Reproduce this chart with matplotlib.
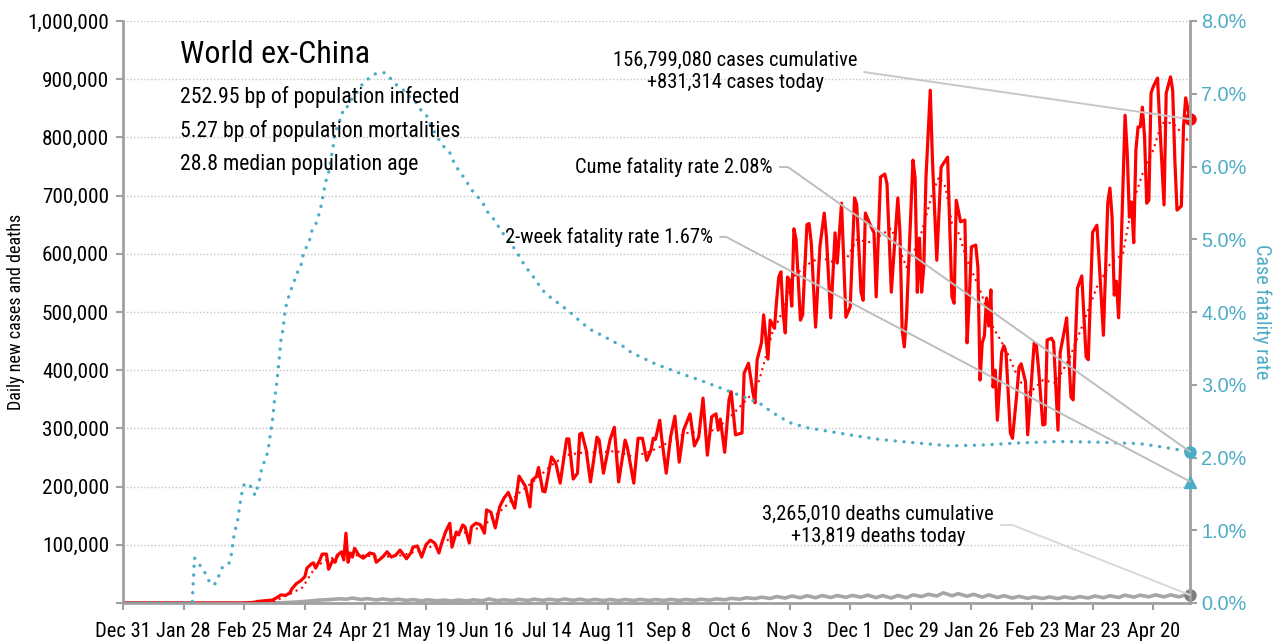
import numpy as np
import pandas as pd
import matplotlib
matplotlib.use("Agg")
import matplotlib.pyplot as plt
import matplotlib.ticker as mticker
import matplotlib.dates as mdates
from matplotlib import font_manager

# pick a narrow sans if one is installed
entries = font_manager.fontManager.ttflist
names = {f.name for f in entries}
NARROW, STRETCH = "DejaVu Sans", "normal"
for c in ["Liberation Sans Narrow", "Roboto Condensed", "Open Sans Condensed", "Noto Sans Condensed", "Arial Narrow"]:
    if c in names:
        NARROW = c
        break
else:
    for fam in ["Noto Sans", "Open Sans", "Roboto", "DejaVu Sans", "Inter"]:
        hits = [f for f in entries if f.name == fam and str(f.stretch) in ("condensed", "semi-condensed")
                and f.style == "normal"]
        if hits:
            NARROW, STRETCH = fam, str(hits[0].stretch)
            break
plt.rcParams["font.family"] = [NARROW, "DejaVu Sans"]
plt.rcParams["font.stretch"] = STRETCH

start = pd.Timestamp("2019-12-31")
last_day = 493

# daily new cases (thousands), as (day since Dec 31 2019, value)
cases_pts = [
    (0, 0), (55, 0), (60, 1), (63, 3), (69, 5), (71, 9), (73, 14), (75, 13), (77, 17), (78, 24),
    (80, 33), (82, 38), (84, 45), (85, 60), (87, 67), (88, 69), (89, 60), (91, 74), (92, 84), (94, 84),
    (95, 58), (97, 74), (98, 70), (99, 82), (101, 88), (102, 74), (103, 120), (104, 70), (105, 86), (106, 79),
    (107, 94), (109, 82), (111, 77), (114, 86), (116, 84), (117, 70), (120, 79), (122, 88), (124, 79), (126, 82),
    (128, 91), (131, 76), (133, 86), (134, 96), (136, 98), (138, 79), (140, 100), (142, 108), (144, 103), (146, 86),
    (147, 100), (149, 122), (151, 137), (152, 96), (154, 122), (155, 117), (157, 134), (158, 131), (160, 103), (161, 131),
    (163, 137), (165, 135), (167, 120), (168, 160), (170, 156), (172, 129), (174, 165), (176, 180), (178, 190), (181, 163),
    (183, 218), (186, 200), (188, 165), (189, 211), (191, 217), (192, 233), (194, 192), (195, 191), (198, 251), (200, 240),
    (202, 206), (205, 282), (206, 282), (208, 213), (210, 223), (211, 290), (212, 292), (214, 263), (216, 208), (219, 285),
    (220, 280), (222, 223), (225, 280), (227, 302), (229, 208), (232, 280), (233, 268), (236, 206), (238, 283), (240, 283),
    (242, 245), (244, 263), (245, 283), (246, 281), (248, 314), (249, 280), (251, 223), (253, 285), (255, 321), (257, 242),
    (259, 297), (262, 325), (264, 270), (266, 285), (268, 352), (270, 254), (272, 320), (274, 325), (275, 297), (276, 316),
    (278, 259), (280, 349), (281, 363), (283, 289), (286, 292), (287, 395), (289, 412), (291, 363), (292, 344), (293, 418),
    (295, 447), (296, 495), (298, 419), (299, 486), (301, 472), (302, 520), (303, 560), (304, 569), (305, 498), (306, 464),
    (307, 560), (308, 555), (309, 510), (310, 643), (311, 624), (313, 486), (314, 495), (316, 650), (317, 652), (318, 619),
    (320, 474), (322, 612), (324, 670), (325, 630), (327, 490), (329, 636), (330, 584), (332, 687), (333, 590), (334, 491),
    (336, 509), (338, 696), (339, 685), (341, 534), (342, 520), (343, 670), (345, 652), (347, 636), (348, 526), (350, 732),
    (352, 737), (353, 720), (355, 534), (356, 589), (358, 696), (359, 636), (360, 469), (361, 440), (362, 491), (365, 761),
    (366, 730), (367, 534), (368, 627), (369, 534), (370, 577), (371, 730), (373, 881), (374, 761), (376, 589), (378, 749),
    (381, 766), (383, 526), (384, 515), (385, 692), (387, 655), (389, 658), (390, 447), (391, 520), (392, 612), (394, 615),
    (395, 577), (396, 383), (397, 447), (398, 459), (399, 524), (400, 476), (401, 538), (402, 371), (403, 400), (404, 314),
    (406, 431), (407, 442), (408, 430), (410, 292), (411, 283), (413, 361), (414, 405), (415, 411), (417, 380), (418, 289),
    (420, 395), (421, 447), (422, 443), (423, 404), (425, 306), (426, 307), (427, 452), (429, 455), (430, 448), (432, 297),
    (433, 430), (435, 469), (436, 490), (438, 354), (439, 349), (441, 541), (443, 562), (445, 423), (446, 418), (448, 637),
    (450, 649), (451, 589), (453, 460), (455, 687), (456, 713), (457, 663), (458, 529), (459, 553), (460, 490), (461, 589),
    (463, 838), (464, 773), (465, 663), (466, 689), (467, 619), (468, 778), (469, 818), (470, 818), (471, 852), (472, 801),
    (473, 687), (474, 692), (475, 876), (476, 887), (478, 902), (479, 826), (481, 684), (482, 876), (484, 904), (485, 881),
    (486, 761), (487, 675), (489, 682), (490, 818), (491, 868), (493, 831.314),
]

# 7-day average of cases (thousands)
trend_pts = [
    (0, 0), (60, 0), (70, 3), (78, 17), (83, 27), (86, 45), (89, 62), (94, 74), (101, 82), (110, 82),
    (120, 79), (129, 82), (138, 91), (147, 103), (157, 120), (166, 131), (175, 160), (183, 189), (192, 216), (198, 237),
    (205, 254), (211, 258), (220, 259), (228, 261), (235, 252), (242, 258), (248, 268), (254, 280), (260, 292), (266, 294),
    (273, 297), (279, 314), (285, 337), (291, 361), (294, 383), (300, 464), (305, 503), (309, 558), (316, 581), (322, 594),
    (328, 586), (334, 589), (339, 624), (345, 620), (349, 629), (355, 644), (362, 577), (368, 624), (374, 704), (377, 732),
    (380, 715), (383, 653), (386, 636), (390, 589), (396, 538), (402, 474), (408, 435), (414, 383), (419, 361), (425, 383),
    (431, 378), (437, 418), (443, 474), (450, 543), (456, 582), (462, 600), (466, 680), (471, 737), (476, 778), (480, 825),
    (485, 825), (489, 808), (493, 790),
]

# daily deaths (thousands)
deaths_pts = [
    (0, 0), (60, 0), (70, 0.2), (75, 0.7), (80, 1.7), (85, 3), (90, 4.8), (95, 5.8), (100, 7.2), (103, 6.5),
    (106, 8.5), (110, 6), (113, 7.5), (117, 5.2), (120, 7), (124, 5), (127, 6.5), (131, 4.5), (134, 5.8), (138, 3.8),
    (141, 5.5), (145, 3.7), (148, 5), (152, 3.5), (155, 5.2), (159, 3.6), (162, 5.5), (166, 3.8), (169, 7), (173, 4),
    (176, 5.6), (180, 4), (183, 6.3), (187, 4.3), (190, 6.6), (194, 4.5), (197, 6.5), (201, 4.6), (204, 6.8), (208, 4.6),
    (211, 6.5), (215, 4.3), (218, 6.2), (222, 4.2), (225, 6), (229, 4.1), (232, 6), (236, 4.3), (239, 6.2), (243, 4.2),
    (246, 5.8), (250, 4.4), (253, 6.2), (257, 4.3), (260, 6), (264, 4.5), (267, 6.5), (271, 4.8), (274, 7), (278, 5.5),
    (281, 8), (285, 6.5), (288, 9), (292, 7.5), (295, 10), (299, 7.8), (302, 11), (306, 8.5), (309, 12), (313, 9),
    (316, 12.5), (320, 9), (323, 12.8), (327, 9.5), (330, 12.8), (334, 9.8), (337, 13), (341, 10), (344, 13.5), (348, 9.3),
    (351, 12.8), (355, 8.5), (358, 13), (362, 9), (365, 14), (369, 11), (372, 15), (376, 12), (379, 17.5), (383, 12.5),
    (386, 16), (390, 11.5), (393, 15), (397, 10), (400, 14), (404, 9.5), (407, 12.5), (411, 8.5), (414, 11.5), (418, 8),
    (421, 10.5), (425, 7.7), (428, 10.5), (432, 7.5), (435, 10.5), (439, 8), (442, 11), (446, 8.5), (449, 12), (453, 9),
    (456, 12.5), (460, 9.5), (463, 13.5), (467, 10), (470, 13.5), (474, 10.5), (477, 14), (481, 10.5), (484, 14), (488, 10.5),
    (491, 14.2), (493, 13.819),
]

# cumulative case fatality rate (%)
cfr_pts = [
    (0, 0), (32, 0), (33, 0.62), (34, 0.58), (35, 0.54), (36, 0.50), (37, 0.45), (38, 0.41), (39, 0.34), (40, 0.29),
    (41, 0.25), (42, 0.25), (43, 0.28), (44, 0.36), (45, 0.41), (46, 0.50), (47, 0.51), (48, 0.52), (49, 0.55), (50, 0.66),
    (51, 0.88), (52, 1.02), (53, 1.14), (54, 1.35), (55, 1.52), (56, 1.63), (57, 1.65), (58, 1.64), (59, 1.60), (60, 1.55),
    (61, 1.48), (62, 1.58), (63, 1.68), (64, 1.84), (65, 1.92), (66, 1.99), (67, 2.09), (68, 2.30), (69, 2.49), (70, 2.79),
    (71, 3.02), (72, 3.30), (73, 3.62), (74, 3.77), (75, 4.05), (76, 4.15), (77, 4.26), (79, 4.41), (80, 4.52), (82, 4.60),
    (83, 4.76), (84, 4.85), (86, 4.96), (87, 5.10), (89, 5.20), (91, 5.39), (92, 5.53), (93, 5.69), (94, 5.83), (95, 5.92),
    (96, 6.09), (97, 6.25), (98, 6.47), (100, 6.61), (101, 6.74), (103, 6.75), (104, 6.87), (107, 6.97), (111, 7.15), (116, 7.27),
    (121, 7.29), (123, 7.23), (126, 7.13), (129, 7.07), (132, 6.97), (135, 6.90), (138, 6.76), (140, 6.72), (142, 6.58), (145, 6.41),
    (148, 6.28), (151, 6.19), (153, 6.05), (155, 5.95), (158, 5.83), (160, 5.73), (162, 5.64), (165, 5.55), (167, 5.46), (168, 5.39),
    (171, 5.29), (173, 5.20), (175, 5.10), (178, 5.00), (180, 4.91), (183, 4.77), (186, 4.62), (189, 4.51), (192, 4.38), (195, 4.26),
    (198, 4.19), (203, 4.08), (208, 3.96), (212, 3.85), (217, 3.74), (222, 3.67), (226, 3.60), (231, 3.53), (235, 3.44), (240, 3.37),
    (245, 3.30), (250, 3.24), (258, 3.15), (266, 3.07), (274, 2.98), (281, 2.90), (288, 2.82), (294, 2.75), (300, 2.62), (308, 2.48),
    (316, 2.41), (322, 2.38), (336, 2.31), (349, 2.25), (363, 2.21), (382, 2.16), (396, 2.17), (414, 2.20), (432, 2.22), (451, 2.21),
    (470, 2.19), (481, 2.14), (493, 2.08),
]

two_week_cfr = 1.67

tick_labels = ["Dec 31", "Jan 28", "Feb 25", "Mar 24", "Apr 21", "May 19", "Jun 16", "Jul 14", "Aug 11",
               "Sep 8", "Oct 6", "Nov 3", "Dec 1", "Dec 29", "Jan 26", "Feb 23", "Mar 23", "Apr 20"]

stats = ["252.95 bp of population infected",
         "5.27 bp of population mortalities",
         "28.8 median population age"]


def to_series(pts):
    d, v = zip(*pts)
    return start + pd.to_timedelta(d, unit="D"), np.array(v, dtype=float)


RED = "#ff0000"
TEAL = "#4bacc6"
GREY = "#a6a6a6"
AXC = "#a0a0a0"

# sizes: shrink if we ended up with a wide font
narrow_ok = NARROW != "DejaVu Sans" or STRETCH != "normal"
k = 1.0 if narrow_ok else 0.8

fig = plt.figure(figsize=(12.82, 6.44), dpi=100)
ax = fig.add_axes([123 / 1282, 41 / 644, 1067 / 1282, 582 / 644])

cd, cv = to_series(cases_pts)
td, tv = to_series(trend_pts)
dd, dv = to_series(deaths_pts)
fd, fv = to_series(cfr_pts)
end = start + pd.Timedelta(days=last_day)
end_num = mdates.date2num(end.to_pydatetime())

ax.plot(dd, dv * 1000, color=GREY, lw=2.6, solid_joinstyle="round")
ax.plot(cd, cv * 1000, color=RED, lw=2.3, solid_joinstyle="round")
ax.plot(td, tv * 1000, color=RED, lw=1.5, linestyle=(0, (1, 2)))
ax.plot([end], [cv[-1] * 1000], "o", color=RED, ms=8, clip_on=False, zorder=5)
ax.plot([end], [dv[-1] * 1000], "o", color="#7f7f7f", ms=8, clip_on=False, zorder=5)

ax.set_xlim(start, end)
ax.set_ylim(0, 1_000_000)
ax.set_yticks(np.arange(0, 1_000_001, 100_000))
ax.yaxis.set_major_formatter(mticker.FuncFormatter(lambda v, p: "" if v == 0 else f"{v:,.0f}"))
ticks = pd.date_range(start, periods=len(tick_labels), freq="28D")
ax.set_xticks(ticks)
ax.set_xticklabels(tick_labels)
ax.grid(axis="y", color="#c4c4c4", lw=1, linestyle=(0, (1, 1.5)))
ax.set_axisbelow(True)
for s in ["top", "right"]:
    ax.spines[s].set_visible(False)
for s in ["left", "bottom"]:
    ax.spines[s].set_color(AXC)
    ax.spines[s].set_linewidth(2)
ax.tick_params(axis="both", colors=AXC, width=1.5, length=5, labelcolor="black")
ax.tick_params(axis="y", labelsize=15.3 * k, pad=5)
ax.tick_params(axis="x", labelsize=14.8 * k, pad=9)
ax.set_ylabel("Daily new cases and deaths", fontsize=13 * k, labelpad=2)

ax2 = ax.twinx()
ax2.plot(fd, fv, color=TEAL, lw=2.4, linestyle=(0, (0.05, 2.6)), dash_capstyle="round")
ax2.plot([end], [fv[-1]], "o", color=TEAL, ms=8, clip_on=False, zorder=5)
ax2.plot([end], [two_week_cfr], "^", color=TEAL, ms=9, clip_on=False, zorder=5)
ax2.set_ylim(0, 8)
ax2.set_yticks(np.arange(0, 9, 1))
ax2.yaxis.set_major_formatter(mticker.FuncFormatter(lambda v, p: f"{v:.1f}%"))
for s in ["top", "left", "bottom"]:
    ax2.spines[s].set_visible(False)
ax2.spines["right"].set_color(AXC)
ax2.spines["right"].set_linewidth(2)
ax2.tick_params(axis="y", colors=AXC, width=1.5, length=5, labelcolor=TEAL, pad=3)
for lab in ax2.get_yticklabels():
    lab.set_family(["Liberation Sans", "DejaVu Sans"])
    lab.set_stretch("normal")
    lab.set_fontsize(14.3)
ax2.set_ylabel("Case fatality rate", fontsize=14.5 * k, color=TEAL, rotation=270, labelpad=18)

# header text
ax2.text(0.0534, 0.9416, "World ex-China", transform=ax2.transAxes, fontsize=23 * k, va="center", ha="left")
for i, s in enumerate(stats):
    ax2.text(0.0534, 0.8694 - i * 0.0584, s, transform=ax2.transAxes, fontsize=15.7 * k, va="center", ha="left")


def leader(text, xy, coords, pos, ha, conn, color):
    ax2.annotate(text, xy=xy, xycoords=coords, xytext=pos, textcoords="axes fraction",
                 ha=ha, va="center", ma="center", fontsize=14.8 * k, zorder=6,
                 arrowprops=dict(arrowstyle="-", color=color, lw=1.4, shrinkA=3, shrinkB=0,
                                 relpos=(1, 0.5), connectionstyle=conn))


leader("156,799,080 cases cumulative\n+831,314 cases today", (end_num, cv[-1] * 1000), ax.transData,
       (0.5736, 0.914), "center", "arc3,rad=0", "#c8c8c8")
leader("Cume fatality rate 2.08%", (end_num, fv[-1]), ax2.transData,
       (0.609, 0.749), "right", "angle,angleA=0,angleB=-35.3,rad=0", "#bdbdbd")
leader("2-week fatality rate 1.67%", (end_num, two_week_cfr), ax2.transData,
       (0.553, 0.629), "right", "angle,angleA=0,angleB=-27.8,rad=0", "#bdbdbd")
leader("3,265,010 deaths cumulative\n+13,819 deaths today", (end_num, dv[-1] * 1000), ax.transData,
       (0.7076, 0.134), "center", "angle,angleA=0,angleB=-21.5,rad=0", "#d9d9d9")

fig.savefig("out.png", dpi=100)
